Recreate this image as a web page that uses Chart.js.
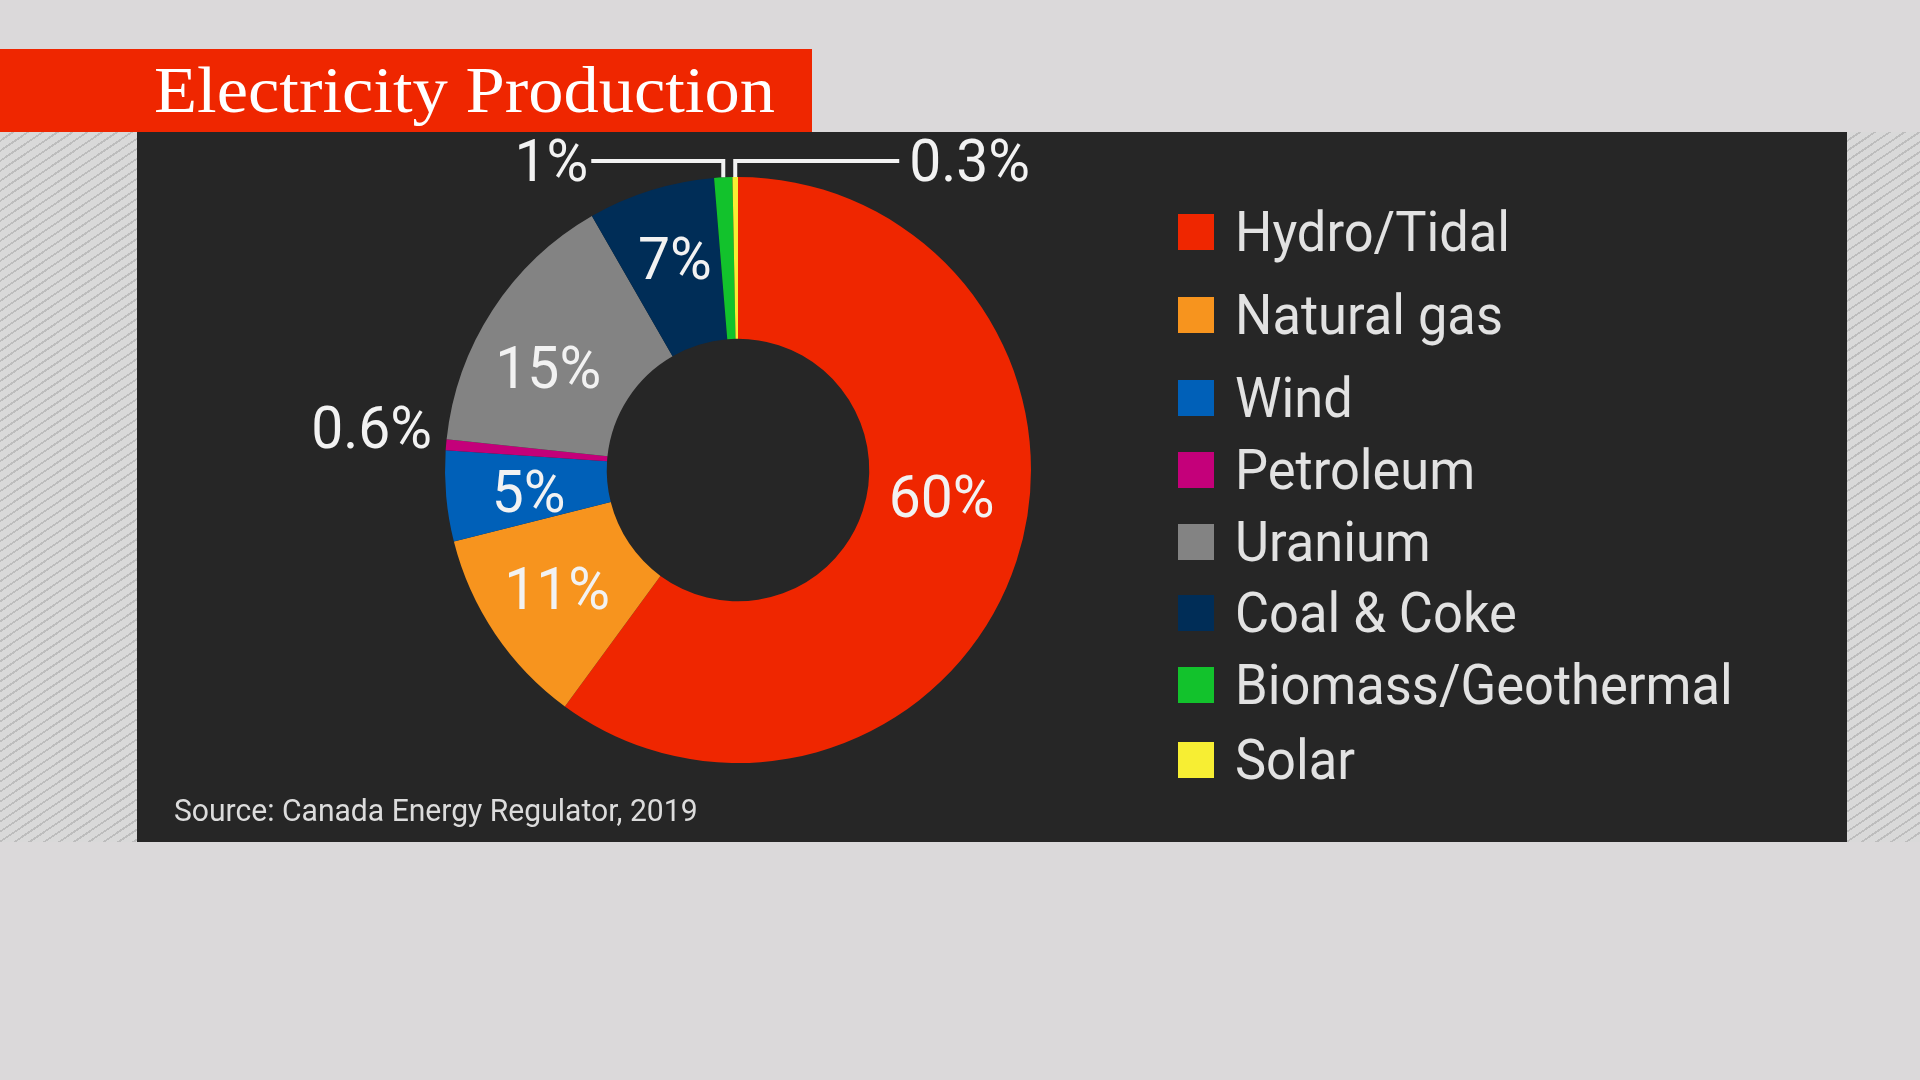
<!DOCTYPE html>
<html>
<head>
<meta charset="utf-8">
<title>Electricity Production</title>
<script src="https://cdn.jsdelivr.net/npm/chart.js@4.4.1/dist/chart.umd.min.js"></script>
<style>
  html, body { margin: 0; padding: 0; }
  body {
    width: 1920px; height: 1080px; position: relative; overflow: hidden;
    background: #dbd9da; font-family: Roboto, "Noto Sans", sans-serif;
  }
  .hatch {
    position: absolute; top: 132px; height: 710px;
    background: repeating-linear-gradient(146deg, #d9d9d9 0 6.5px, #bdbdbd 6.5px 8.3px);
  }
  #panel { position: absolute; left: 137px; top: 132px; width: 1710px; height: 710px; background: #262626; }
  #titleBar { position: absolute; left: 0; top: 49px; width: 812px; height: 83px; background: #ef2600; }
  #title {
    position: absolute; left: 154px; top: 57px; white-space: nowrap;
    font-family: "Liberation Serif", "DejaVu Serif", serif; font-size: 66px; line-height: 66px;
    color: #ffffff; transform-origin: 0 0;
  }
  #chart { position: absolute; left: 0; top: 0; }
  #legend { position: absolute; left: 0; top: 0; }
  .row { position: absolute; left: 1178px; height: 56px; display: flex; align-items: center; white-space: nowrap; }
  .sw { width: 36px; height: 36px; margin-right: 21px; flex: none; }
  .row span {
    display: inline-block; font-size: 55px; line-height: 56px; color: #e2e2e2;
    transform: scaleX(0.953); transform-origin: 0 50%;
  }
  #source {
    position: absolute; left: 174px; top: 794px; font-size: 32px; line-height: 32px;
    color: #dcdcdc; white-space: nowrap; transform: scaleX(0.94); transform-origin: 0 50%;
  }
</style>
</head>
<body>
<div class="hatch" style="left:0;width:137px"></div>
<div class="hatch" style="left:1847px;width:73px"></div>
<div id="panel"></div>
<div id="titleBar"></div>
<div id="title">Electricity Production</div>
<canvas id="chart" width="1920" height="1080"></canvas>
<div id="legend"></div>
<div id="source">Source: Canada Energy Regulator, 2019</div>

<script>
// data (percent of production)
const sources = ['Hydro/Tidal', 'Natural gas', 'Wind', 'Petroleum', 'Uranium', 'Coal & Coke', 'Biomass/Geothermal', 'Solar'];
const shares = [60, 11, 5, 0.6, 15, 7, 1, 0.3];
const shareText = ['60%', '11%', '5%', '0.6%', '15%', '7%', '1%', '0.3%'];
const colors = ['#ef2600', '#f7941e', '#0060b8', '#c4007a', '#838383', '#002d57', '#12c22c', '#f7ee33'];

// where each label goes
const labelMode = ['inside', 'inside', 'inside', 'side', 'inside', 'inside', 'calloutLeft', 'calloutRight'];
const labelNudge = [[2, -40], [-5, -1], [2, 2], [0, 0], [-12, 12], [0, -10], [0, 0], [0, 0]];
const legendRowY = [232, 315, 398, 470, 542, 613, 685, 760];

const LABEL_FONT = 60;
const LABEL_SQUEEZE = 0.95;
const ELBOW_Y = 161;

function squeezedText(ctx, text, x, y, align) {
  // text is a touch narrower than plain Roboto in the original
  const w = ctx.measureText(text).width * LABEL_SQUEEZE;
  let left = x;
  if (align === 'center') left = x - w / 2;
  else if (align === 'right') left = x - w;
  ctx.save();
  ctx.translate(left, y);
  ctx.scale(LABEL_SQUEEZE, 1);
  ctx.textAlign = 'left';
  ctx.fillText(text, 0, 0);
  ctx.restore();
}

const labelPlugin = {
  id: 'pctLabels',
  afterDatasetsDraw(chart) {
    const ctx = chart.ctx;
    const arcs = chart.getDatasetMeta(0).data;
    const capHalf = LABEL_FONT * 0.711 / 2;
    ctx.save();
    ctx.font = LABEL_FONT + 'px Roboto';
    ctx.fillStyle = '#f2f2f2';
    ctx.strokeStyle = '#f2f2f2';
    ctx.lineWidth = 4;
    ctx.lineJoin = 'miter';
    ctx.textBaseline = 'alphabetic';

    arcs.forEach((arc, i) => {
      const mode = labelMode[i];
      const mid = (arc.startAngle + arc.endAngle) / 2;
      const ox = arc.x + Math.cos(mid) * arc.outerRadius;
      const oy = arc.y + Math.sin(mid) * arc.outerRadius;

      if (mode === 'inside') {
        const p = arc.tooltipPosition();
        squeezedText(ctx, shareText[i], p.x + labelNudge[i][0], p.y + labelNudge[i][1] + capHalf, 'center');
      } else if (mode === 'side') {
        squeezedText(ctx, shareText[i], ox - 14, oy - 18 + capHalf, 'right');
      } else {
        const left = mode === 'calloutLeft';
        const endX = left ? ox - 132 : ox + 164;
        ctx.beginPath();
        ctx.moveTo(ox, oy);
        ctx.lineTo(ox, ELBOW_Y);
        ctx.lineTo(endX, ELBOW_Y);
        ctx.stroke();
        squeezedText(ctx, shareText[i], left ? endX - 3 : endX + 10, ELBOW_Y - 1 + capHalf, left ? 'right' : 'left');
      }
    });
    ctx.restore();
  }
};

function buildLegend() {
  const box = document.getElementById('legend');
  sources.forEach((name, i) => {
    const row = document.createElement('div');
    row.className = 'row';
    row.style.top = (legendRowY[i] - 28) + 'px';
    row.innerHTML = `<div class="sw" style="background:${colors[i]}"></div><span>${name.replace('&', '&amp;')}</span>`;
    box.appendChild(row);
  });
}

function fitTitle() {
  const t = document.getElementById('title');
  const w = t.getBoundingClientRect().width;
  t.style.transform = `scaleX(${621 / w})`;
}

function init() {
  buildLegend();
  fitTitle();

  new Chart(document.getElementById('chart'), {
    type: 'doughnut',
    data: {
      labels: sources,
      datasets: [{ data: shares, backgroundColor: colors, borderWidth: 0, hoverOffset: 0 }]
    },
    options: {
      responsive: false,
      animation: false,
      devicePixelRatio: 1,
      cutout: '44.8%',
      events: [],
      layout: { padding: { left: 445, top: 177, right: 889, bottom: 317 } },
      plugins: { legend: { display: false }, tooltip: { enabled: false } }
    },
    plugins: [labelPlugin]
  });
}

if (document.fonts && document.fonts.ready) {
  Promise.all([document.fonts.load('60px Roboto'), document.fonts.load('66px "Liberation Serif"')])
    .then(() => document.fonts.ready).then(init, init);
} else {
  init();
}
</script>
</body>
</html>
